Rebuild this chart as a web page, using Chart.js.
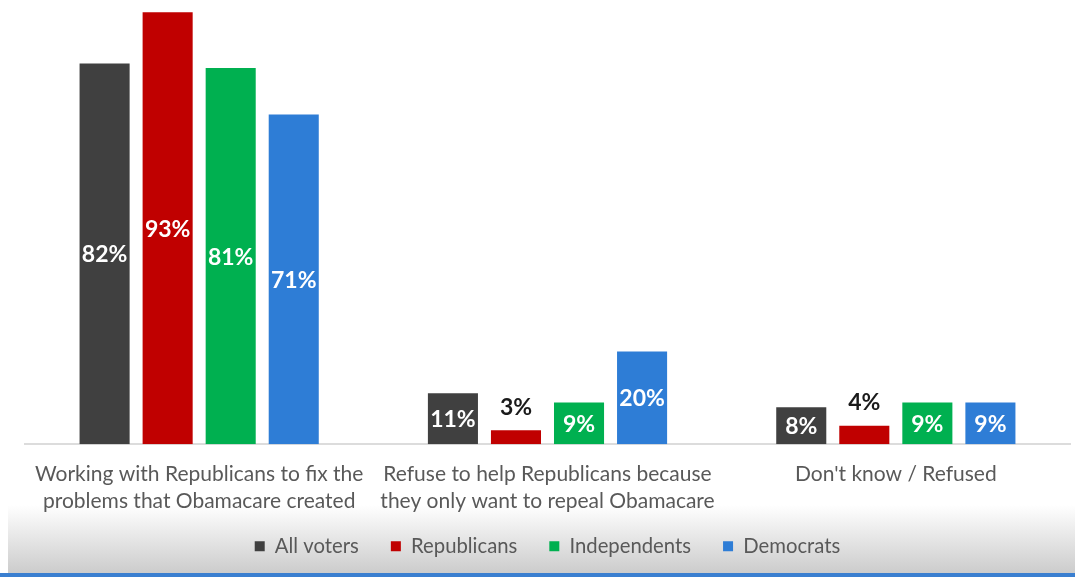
<!DOCTYPE html>
<html><head><meta charset="utf-8">
<script src="https://cdn.jsdelivr.net/npm/chart.js@4/dist/chart.umd.min.js"></script>
<style>
html,body{margin:0;padding:0;background:#fff;}
#wrap{position:relative;width:1075px;height:577px;overflow:hidden;}
#bg{position:absolute;left:8px;right:0;top:505px;bottom:0;background:linear-gradient(#ffffff,#c9c9c9);}
#bl{position:absolute;left:0;right:0;bottom:0;height:4px;background:#3a7fd0;}
canvas{position:absolute;left:0;top:0;}
</style></head>
<body><div id="wrap"><div id="bg"></div><div id="bl"></div><canvas id="c" width="1075" height="577"></canvas></div>
<script>
const categories = [
  ["Working with Republicans to fix the","problems that Obamacare created"],
  ["Refuse to help Republicans because","they only want to repeal Obamacare"],
  ["Don't know / Refused"]
];
const seriesNames = ["All voters","Republicans","Independents","Democrats"];
const allVoters = [82, 11, 8];
const republicans = [93, 3, 4];
const independents = [81, 9, 9];
const democrats = [71, 20, 9];
const colors = ["#404040","#C00000","#00B050","#2E7DD6"];

const FONT = "Lato, sans-serif";
const labelPlugin = {
  id:'vals',
  afterDatasetsDraw(chart){
    const ctx = chart.ctx;
    ctx.save();
    ctx.textAlign='center';
    ctx.textBaseline='middle';
    ctx.font = "bold 23px " + FONT;
    chart.data.datasets.forEach((ds,i)=>{
      const meta = chart.getDatasetMeta(i);
      meta.data.forEach((el,j)=>{
        const v = ds.data[j];
        const txt = v + '%';
        if (v >= 8){
          ctx.fillStyle = '#ffffff';
          ctx.fillText(txt, el.x, (el.y + el.base)/2 + 1);
        } else {
          ctx.fillStyle = '#1a1a1a';
          ctx.fillText(txt, el.x, el.y - 23);
        }
      });
    });
    ctx.restore();
  }
};

new Chart(document.getElementById('c'), {
  type:'bar',
  data:{
    labels: categories,
    datasets:[
      {label:seriesNames[0], data:allVoters, backgroundColor:colors[0]},
      {label:seriesNames[1], data:republicans, backgroundColor:colors[1]},
      {label:seriesNames[2], data:independents, backgroundColor:colors[2]},
      {label:seriesNames[3], data:democrats, backgroundColor:colors[3]}
    ]
  },
  options:{
    responsive:false,
    animation:false,
    devicePixelRatio:1,
    layout:{padding:{left:25,right:5,top:3,bottom:10.7}},
    datasets:{bar:{categoryPercentage:0.724,barPercentage:0.794}},
    scales:{
      y:{display:false,min:0,max:95},
      x:{
        grid:{display:false},
        border:{display:true,color:'#dcdcdc',width:2},
        ticks:{color:'#595959',font:{family:FONT,size:21,lineHeight:1.2857},padding:8.5,maxRotation:0,autoSkip:false},
        afterFit(s){ s.height = 59.7; s._computeLabelArea = () => null; }
      }
    },
    plugins:{
      tooltip:{enabled:false},
      legend:{
        position:'bottom',
        labels:{color:'#595959',font:{family:FONT,size:20.3},boxWidth:10,boxHeight:10,padding:32}
      }
    }
  },
  plugins:[labelPlugin]
});
</script></body></html>
